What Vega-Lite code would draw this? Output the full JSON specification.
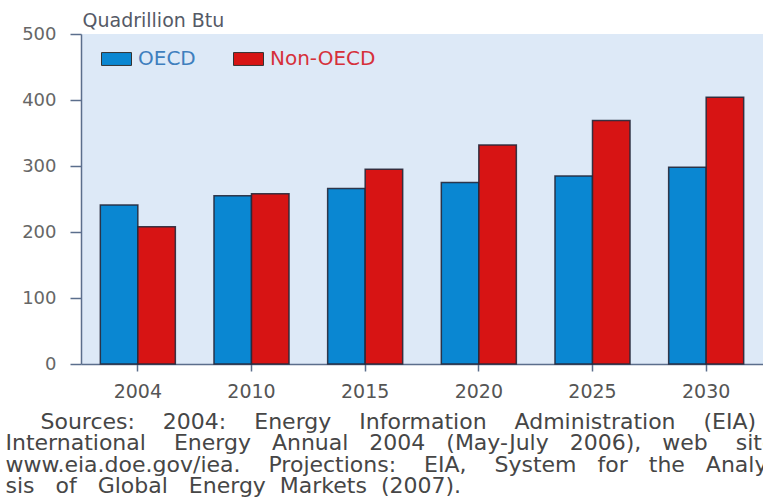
{
  "$schema": "https://vega.github.io/schema/vega-lite/v6.json",
  "width": 682,
  "height": 330,
  "autosize": {"type": "none"},
  "padding": {"left": 81, "top": 34, "right": 0, "bottom": 134},
  "background": "white",
  "data": {
    "values": [
      {"year": "2004", "region": "OECD", "value": 241},
      {"year": "2004", "region": "Non-OECD", "value": 208},
      {"year": "2010", "region": "OECD", "value": 255},
      {"year": "2010", "region": "Non-OECD", "value": 258},
      {"year": "2015", "region": "OECD", "value": 266},
      {"year": "2015", "region": "Non-OECD", "value": 295},
      {"year": "2020", "region": "OECD", "value": 275},
      {"year": "2020", "region": "Non-OECD", "value": 332},
      {"year": "2025", "region": "OECD", "value": 285},
      {"year": "2025", "region": "Non-OECD", "value": 369},
      {"year": "2030", "region": "OECD", "value": 298},
      {"year": "2030", "region": "Non-OECD", "value": 404}
    ]
  },
  "mark": {"type": "bar", "stroke": "#26283a", "strokeWidth": 1.5, "strokeOpacity": 0.9},
  "encoding": {
    "x": {
      "field": "year",
      "type": "ordinal",
      "scale": {"paddingInner": 0.34, "paddingOuter": 0.17},
      "axis": {
        "title": [
          "\u200b\u00a0\u00a0\u00a0\u00a0\u00a0Sources: \u00a0\u00a0\u00a02004: \u00a0\u00a0\u00a0Energy \u00a0\u00a0\u00a0Information \u00a0\u00a0\u00a0Administration \u00a0\u00a0\u00a0(EIA)",
          "International \u00a0\u00a0\u00a0Energy \u00a0\u00a0Annual \u00a0\u00a02004 \u00a0\u00a0(May-July \u00a0\u00a02006), \u00a0\u00a0web \u00a0\u00a0\u00a0site",
          "www.eia.doe.gov/iea. \u00a0\u00a0\u00a0Projections: \u00a0\u00a0\u00a0EIA, \u00a0\u00a0\u00a0System \u00a0\u00a0for \u00a0\u00a0the \u00a0\u00a0Analy-",
          "sis \u00a0\u00a0of \u00a0\u00a0Global \u00a0\u00a0Energy \u00a0Markets \u00a0(2007)."
        ],
        "titleFont": "DejaVu Sans",
        "titleFontSize": 22,
        "titleFontWeight": "normal",
        "titleColor": "#464646",
        "titleAnchor": "start",
        "titleAlign": "left",
        "titleBaseline": "top",
        "titleX": -76,
        "titleY": 47,
        "titleLineHeight": 21.5,
        "labelAngle": 0,
        "labelFont": "DejaVu Sans",
        "labelFontSize": 19,
        "labelColor": "#555555",
        "labelPadding": 11,
        "tickSize": 7,
        "tickWidth": 1.5,
        "tickColor": "#5b6e8c",
        "domainColor": "#5b6e8c",
        "domainWidth": 1.5
      }
    },
    "xOffset": {"field": "region", "type": "nominal", "sort": ["OECD", "Non-OECD"]},
    "y": {
      "field": "value",
      "type": "quantitative",
      "scale": {"domain": [0, 500], "nice": false},
      "axis": {
        "values": [0, 100, 200, 300, 400, 500],
        "grid": false,
        "title": "Quadrillion Btu",
        "titleAngle": 0,
        "titleAlign": "left",
        "titleBaseline": "middle",
        "titleX": 1,
        "titleY": -14,
        "titleFont": "DejaVu Sans",
        "titleFontSize": 19,
        "titleFontWeight": "normal",
        "titleColor": "#555a66",
        "labelFont": "DejaVu Sans",
        "labelFontSize": 18,
        "labelColor": "#666666",
        "labelPadding": 14,
        "tickSize": 11,
        "tickWidth": 1.5,
        "tickColor": "#5b6e8c",
        "domainColor": "#5b6e8c",
        "domainWidth": 1.5
      }
    },
    "color": {
      "field": "region",
      "type": "nominal",
      "sort": ["OECD", "Non-OECD"],
      "scale": {"domain": ["OECD", "Non-OECD"], "range": ["#0a87d2", "#d71414"]},
      "legend": {
        "title": null,
        "orient": "none",
        "legendX": 18,
        "legendY": 15,
        "direction": "horizontal",
        "symbolType": "M-1,-0.86H3V0.86H-1Z",
        "symbolSize": 225,
        "symbolStrokeColor": "#333333",
        "symbolStrokeWidth": 1,
        "symbolOpacity": 1,
        "labelFont": "DejaVu Sans",
        "labelFontSize": 20,
        "labelOffset": 19,
        "columnPadding": 35,
        "padding": 0,
        "encode": {
          "labels": {
            "update": {
              "fill": {"signal": "datum.value === 'OECD' ? '#3f7fbe' : '#d6303a'"}
            }
          }
        }
      }
    }
  },
  "config": {
    "font": "DejaVu Sans",
    "view": {"fill": "#dde9f7", "stroke": null}
  }
}
